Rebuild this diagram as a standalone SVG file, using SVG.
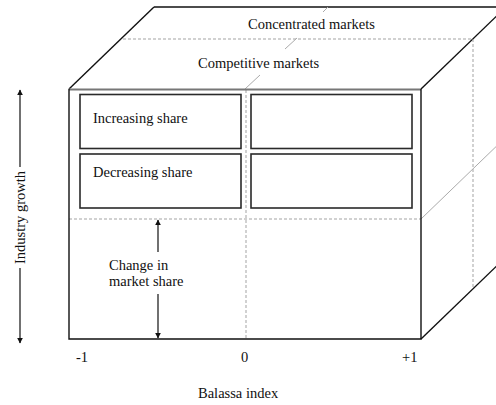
<svg xmlns="http://www.w3.org/2000/svg" width="496" height="405" viewBox="0 0 496 405">
<style>
text{font-family:"Liberation Serif","Times New Roman",serif;font-size:14.5px;fill:#111}
.edge{stroke:#111;stroke-width:1.4;fill:none}
.dash{stroke:#999;stroke-width:0.9;stroke-dasharray:3 2;fill:none}
.faint{stroke:#aaa;stroke-width:1;fill:none}
.box{fill:#fff;stroke:#2a2a2a;stroke-width:1.6}
.ax{stroke:#111;stroke-width:1.2;fill:none}
</style>
<defs>
<marker id="ah" viewBox="0 0 10 10" refX="9" refY="5" markerWidth="6" markerHeight="7" markerUnits="userSpaceOnUse" orient="auto">
<path d="M0,0 L10,5 L0,10 Z" fill="#111"/>
</marker>
</defs>
<rect width="496" height="405" fill="#fff"/>
<g id="cube">
<line class="edge" x1="69" y1="89" x2="154" y2="7"/>
<line class="edge" x1="154" y1="7" x2="496" y2="7"/>
<line class="edge" x1="421" y1="89" x2="506" y2="7"/>
<line class="edge" x1="421" y1="339" x2="506" y2="257"/>
<polyline class="dash" points="123,39 473,39 473,287"/>
<line class="faint" x1="421" y1="219" x2="506" y2="137"/>
<line class="faint" x1="245" y1="89" x2="260" y2="75"/>
<line class="faint" x1="285" y1="49" x2="297" y2="38"/>
<line class="faint" x1="323" y1="12" x2="328" y2="7"/>
<line class="dash" x1="246" y1="90" x2="246" y2="339"/>
<line class="dash" x1="69" y1="219" x2="421" y2="219"/>
<line x1="69" y1="89.5" x2="421" y2="89.5" stroke="#777" stroke-width="2"/>
<polyline class="edge" points="69,89 69,339 421,339 421,89"/>
</g>
<g id="top-labels">
<text x="248" y="29">Concentrated markets</text>
<text x="198" y="68">Competitive markets</text>
</g>
<g id="box-inc"><rect class="box" x="80" y="94.5" width="161" height="54"/><text x="93" y="123">Increasing share</text></g>
<g id="box-dec"><rect class="box" x="80" y="154" width="161" height="54"/><text x="93" y="177">Decreasing share</text></g>
<g id="box-r1"><rect class="box" x="251" y="94.5" width="161" height="54"/></g>
<g id="box-r2"><rect class="box" x="251" y="154" width="161" height="54"/></g>
<g id="connectors">
<line class="ax" x1="158" y1="252" x2="158" y2="220" marker-end="url(#ah)"/>
<line class="ax" x1="158" y1="294" x2="158" y2="338" marker-end="url(#ah)"/>
<line class="ax" x1="20" y1="167" x2="20" y2="90" marker-end="url(#ah)"/>
<line class="ax" x1="20" y1="268" x2="20" y2="343" marker-end="url(#ah)"/>
</g>
<g id="change-label">
<text x="109" y="270">Change in</text>
<text x="109" y="286">market share</text>
</g>
<g id="y-label"><text transform="translate(25,217.5) rotate(-90)" text-anchor="middle">Industry growth</text></g>
<g id="x-axis">
<text x="76" y="362">-1</text>
<text x="241" y="362">0</text>
<text x="402" y="362">+1</text>
<text x="198" y="398">Balassa index</text>
</g>
</svg>
